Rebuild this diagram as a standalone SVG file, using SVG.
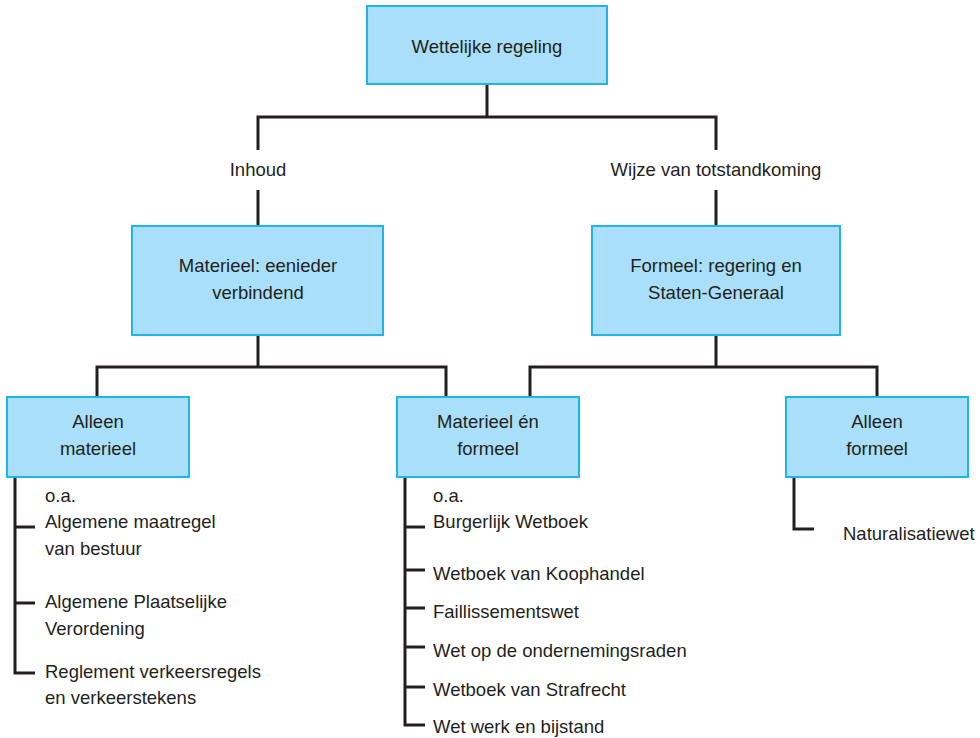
<svg xmlns="http://www.w3.org/2000/svg" width="980" height="738" viewBox="0 0 980 738">
<style>
.box{fill:#a9dff8;stroke:#1fb4ec;stroke-width:2}
.t{font-family:"Liberation Sans",Arial,sans-serif;font-size:18.5px;fill:#231f20}
.c{text-anchor:middle}
.ln{fill:none;stroke:#231f20;stroke-width:3}
</style>
<rect width="980" height="738" fill="#fff"/>
<g id="connectors">
<path class="ln" d="M487,84V117M258,150V117H716V150M258,190V226M716,190V226"/>
<path class="ln" d="M258,335V367M97,398V367H446V398M716,335V367M530,398V367H877V398"/>
<path class="ln" d="M15,477V673H35M15,527H35M15,603H35"/>
<path class="ln" d="M405,477V725H425M405,527H425M405,570H425M405,608H425M405,647H425M405,687H425"/>
<path class="ln" d="M794,477V529H814"/>
</g>
<g id="n-wettelijke"><rect class="box" x="367" y="6" width="240" height="78"/><text class="t c" x="487" y="53">Wettelijke regeling</text></g>
<g id="l-inhoud"><text class="t c" x="258" y="176">Inhoud</text></g>
<g id="l-wijze"><text class="t c" x="716" y="176">Wijze van totstandkoming</text></g>
<g id="n-materieel"><rect class="box" x="132" y="226" width="251" height="109"/><text class="t c" x="258" y="272">Materieel: eenieder</text><text class="t c" x="258" y="299">verbindend</text></g>
<g id="n-formeel"><rect class="box" x="592" y="226" width="248" height="109"/><text class="t c" x="716" y="272">Formeel: regering en</text><text class="t c" x="716" y="299">Staten-Generaal</text></g>
<g id="n-alleen-materieel"><rect class="box" x="7" y="397" width="182" height="80"/><text class="t c" x="98" y="428">Alleen</text><text class="t c" x="98" y="455">materieel</text></g>
<g id="n-materieel-formeel"><rect class="box" x="397" y="397" width="182" height="80"/><text class="t c" x="488" y="428">Materieel én</text><text class="t c" x="488" y="455">formeel</text></g>
<g id="n-alleen-formeel"><rect class="box" x="786" y="397" width="182" height="80"/><text class="t c" x="877" y="428">Alleen</text><text class="t c" x="877" y="455">formeel</text></g>
<g id="list-materieel">
<text class="t" x="45" y="502">o.a.</text>
<text class="t" x="45" y="528">Algemene maatregel</text>
<text class="t" x="45" y="555">van bestuur</text>
<text class="t" x="45" y="608">Algemene Plaatselijke</text>
<text class="t" x="45" y="635">Verordening</text>
<text class="t" x="45" y="678">Reglement verkeersregels</text>
<text class="t" x="45" y="704">en verkeerstekens</text>
</g>
<g id="list-beide">
<text class="t" x="433" y="502">o.a.</text>
<text class="t" x="433" y="528">Burgerlijk Wetboek</text>
<text class="t" x="433" y="580">Wetboek van Koophandel</text>
<text class="t" x="433" y="618">Faillissementswet</text>
<text class="t" x="433" y="657">Wet op de ondernemingsraden</text>
<text class="t" x="433" y="696">Wetboek van Strafrecht</text>
<text class="t" x="433" y="733">Wet werk en bijstand</text>
</g>
<g id="list-formeel">
<text class="t" x="843" y="540">Naturalisatiewet</text>
</g>
</svg>
